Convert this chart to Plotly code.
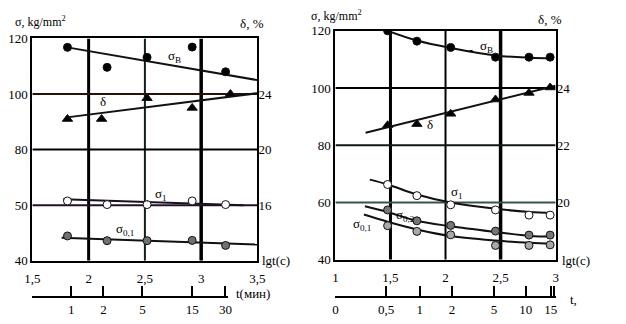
import plotly.graph_objects as go

W, H = 626, 324
FONT = "Liberation Serif"

# ---------- left panel: lg t (s) vs stress / elongation ----------
L_sigB_x = [1.812, 2.164, 2.519, 2.92, 3.217]
L_sigB_y = [116.8, 109.6, 113.2, 116.9, 108.0]
L_sigB_fit_x = [1.81, 3.5]
L_sigB_fit_y = [116.8, 105.0]

L_delta_x = [1.812, 2.115, 2.519, 2.92, 3.26]
L_delta_y = [22.2, 22.2, 23.7, 23.0, 24.0]
L_delta_fit_x = [1.79, 3.5]
L_delta_fit_y = [22.3, 24.06]

L_sig1_x = [1.812, 2.164, 2.519, 2.92, 3.217]
L_sig1_y = [61.5, 60.2, 60.2, 61.5, 60.2]
L_sig1_fit_x = [1.774, 3.376]
L_sig1_fit_y = [62.1, 60.0]

L_sig01_x = [1.812, 2.164, 2.519, 2.92, 3.217]
L_sig01_y = [48.9, 47.2, 47.2, 47.3, 45.5]
L_sig01_fit_x = [1.76, 3.5]
L_sig01_fit_y = [48.3, 45.8]

L_xticks = [1.5, 2, 2.5, 3, 3.5]
L_xtext = ["1,5", "2", "2,5", "3", "3,5"]
L_yticks = [40, 60, 80, 100, 120]
L_ytext = ["40", "50", "80", "100", "120"]
L_dticks = [16, 20, 24]
L_t_pos = [1.5, 1.846, 2.132, 2.478, 2.92, 3.215, 3.238]
L_t_text = ["", "1", "2", "5", "15", "30", ""]

# ---------- right panel ----------
R_x = [1.474, 1.74, 2.047, 2.454, 2.758, 2.95]
R_sigB_y = [120.0, 116.4, 114.2, 110.8, 110.8, 110.8]
R_sigB_fit_x = [1.474, 1.74, 2.047, 2.454, 2.766, 2.97]
R_sigB_fit_y = [120.0, 116.6, 114.0, 111.4, 110.6, 110.4]

R_delta_y = [22.7, 22.74, 23.1, 23.6, 23.83, 24.02]
R_delta_fit_x = [1.274, 3.0]
R_delta_fit_y = [22.44, 24.08]

R_sig1_y = [66.3, 62.4, 59.2, 57.4, 55.6, 55.6]
R_sig1_fit_x = [1.312, 1.474, 1.74, 2.047, 2.454, 2.766, 2.97]
R_sig1_fit_y = [68.0, 66.3, 62.8, 60.0, 57.8, 56.7, 56.3]

R_sig02_y = [57.4, 53.6, 52.0, 50.0, 48.6, 48.6]
R_sig02_fit_x = [1.268, 1.474, 1.74, 2.047, 2.454, 2.766, 2.97]
R_sig02_fit_y = [58.7, 56.7, 53.6, 51.7, 49.7, 48.3, 48.1]

R_sig01_y = [51.9, 49.9, 48.7, 45.0, 45.0, 45.2]
R_sig01_fit_x = [1.259, 1.474, 1.74, 2.047, 2.454, 2.766, 2.97]
R_sig01_fit_y = [55.8, 53.3, 50.6, 48.3, 46.7, 45.9, 45.6]

R_xticks = [1, 1.5, 2, 2.5, 3]
R_xtext = ["1", "1,5", "2", "2,5", "3"]
R_yticks = [40, 60, 80, 100, 120]
R_ytext = ["40", "60", "80", "100", "120"]
R_dticks = [20, 22, 24]
R_t_pos = [1.0, 1.46, 1.766, 2.058, 2.44, 2.728, 2.956, 2.985]
R_t_text = ["0", "0,5", "1", "2", "5", "10", "15", ""]


def px(x):
    return x / W


def py(y):
    return 1 - y / H


fig = go.Figure()


def line(x, y, xa, ya, color="#111111", width=2, shape="linear"):
    fig.add_trace(go.Scatter(x=x, y=y, xaxis=xa, yaxis=ya, mode="lines",
                             line=dict(color=color, width=width, shape=shape),
                             hoverinfo="skip", showlegend=False))


def pts(x, y, xa, ya, symbol, fill, size=8):
    fig.add_trace(go.Scatter(x=x, y=y, xaxis=xa, yaxis=ya, mode="markers",
                             marker=dict(symbol=symbol, size=size, color=fill,
                                         line=dict(color="#111111", width=1)),
                             showlegend=False))


# left panel
line(L_sigB_fit_x, L_sigB_fit_y, "x", "y")
line(L_delta_fit_x, L_delta_fit_y, "x", "y2")
line(L_sig1_fit_x, L_sig1_fit_y, "x", "y", color="#1a1020")
line(L_sig01_fit_x, L_sig01_fit_y, "x", "y")
pts(L_sigB_x, L_sigB_y, "x", "y", "circle", "#000000")
pts(L_delta_x, L_delta_y, "x", "y2", "triangle-up", "#000000", 9)
pts(L_sig1_x, L_sig1_y, "x", "y", "circle", "#ffffff")
pts(L_sig01_x, L_sig01_y, "x", "y", "circle", "#707070")

# right panel
line(R_sigB_fit_x, R_sigB_fit_y, "x2", "y3", shape="spline")
line(R_delta_fit_x, R_delta_fit_y, "x2", "y4")
line(R_sig1_fit_x, R_sig1_fit_y, "x2", "y3", shape="spline")
line(R_sig02_fit_x, R_sig02_fit_y, "x2", "y3", shape="spline")
line(R_sig01_fit_x, R_sig01_fit_y, "x2", "y3", shape="spline")
pts(R_x, R_sigB_y, "x2", "y3", "circle", "#000000")
pts(R_x, R_delta_y, "x2", "y4", "triangle-up", "#000000", 9)
pts(R_x, R_sig1_y, "x2", "y3", "circle", "#ffffff")
pts(R_x, R_sig02_y, "x2", "y3", "circle", "#767676")
pts(R_x, R_sig01_y, "x2", "y3", "circle", "#a8a8a8")

# carriers for the time-in-minutes scales (own hidden y axis at the bottom)
for xa in ("x3", "x4"):
    fig.add_trace(go.Scatter(x=[None], y=[None], xaxis=xa, yaxis="y5",
                             mode="markers", showlegend=False, hoverinfo="skip"))

tick_font = dict(family=FONT, size=13, color="#000000")
frame = dict(showline=True, linewidth=2, linecolor="#000000", mirror=True,
             showgrid=False, zeroline=False, ticks="", tickfont=tick_font)

L_dom_x = [px(25), px(256)]
L_dom_y = [py(266), py(33)]
R_dom_x = [px(336), px(562)]
R_dom_y = [py(265), py(25)]

fig.update_layout(
    width=W, height=H, margin=dict(l=0, r=0, t=0, b=0),
    paper_bgcolor="#ffffff", plot_bgcolor="rgba(0,0,0,0)", showlegend=False,
    font=dict(family=FONT, size=13, color="#000000"),
    xaxis=dict(domain=L_dom_x, range=[1.5, 3.5], anchor="y",
               tickvals=L_xticks, ticktext=L_xtext, ticklabelstandoff=5, **frame),
    yaxis=dict(domain=L_dom_y, range=[40, 120], anchor="x",
               tickvals=L_yticks, ticktext=L_ytext, **frame),
    yaxis2=dict(range=[12, 28], overlaying="y", side="right", anchor="x",
                tickvals=L_dticks, showgrid=False, zeroline=False,
                showline=False, ticks="", tickfont=tick_font),
    xaxis2=dict(domain=R_dom_x, range=[1, 3], anchor="y3",
                tickvals=R_xticks, ticktext=R_xtext, ticklabelstandoff=5, **frame),
    yaxis3=dict(domain=R_dom_y, range=[40, 120], anchor="x2",
                tickvals=R_yticks, ticktext=R_ytext, **frame),
    yaxis4=dict(range=[18, 26], overlaying="y3", side="right", anchor="x2",
                tickvals=R_dticks, showgrid=False, zeroline=False,
                showline=False, ticks="", tickfont=tick_font),
    yaxis5=dict(domain=[py(304), py(300)], range=[0, 1], visible=False,
                anchor="x3"),
    xaxis3=dict(domain=[px(25), px(226)], range=[1.5, 1.5 + 201 / 115.5],
                anchor="free", position=py(304),
                tickvals=L_t_pos, ticktext=L_t_text, ticks="inside",
                ticklen=10, tickwidth=2, tickcolor="#000000",
                showline=True, linewidth=2, linecolor="#000000",
                showgrid=False, zeroline=False, tickfont=tick_font),
    xaxis4=dict(domain=R_dom_x, range=[1, 3], anchor="free", position=py(304),
                tickvals=R_t_pos, ticktext=R_t_text, ticks="inside",
                ticklen=10, tickwidth=2, tickcolor="#000000",
                showline=True, linewidth=2, linecolor="#000000",
                showgrid=False, zeroline=False, tickfont=tick_font),
)

# grid lines of uneven weight
shapes = []
for xv, wd, col in [(2, 3, "#000000"), (2.5, 2, "#102020"), (3, 3.5, "#000000")]:
    shapes.append(dict(type="line", xref="x", yref="y", x0=xv, x1=xv, y0=40, y1=120,
                       line=dict(color=col, width=wd), layer="below"))
for yv, col in [(100, "#2b0f0a"), (80, "#000000"), (60, "#201028")]:
    shapes.append(dict(type="line", xref="x", yref="y", x0=1.5, x1=3.5, y0=yv, y1=yv,
                       line=dict(color=col, width=2), layer="below"))
for xv, wd in [(1.5, 3), (2, 2), (2.5, 3.5)]:
    shapes.append(dict(type="line", xref="x2", yref="y3", x0=xv, x1=xv, y0=40, y1=120,
                       line=dict(color="#000000", width=wd), layer="below"))
for yv, col in [(100, "#000000"), (80, "#101818"), (60, "#3a5050")]:
    shapes.append(dict(type="line", xref="x2", yref="y3", x0=1, x1=3, y0=yv, y1=yv,
                       line=dict(color=col, width=2), layer="below"))
fig.update_layout(shapes=shapes)

ann = []


def note(text, x, y, xref, yref, ax=None, ay=None, size=13, xanchor="center"):
    d = dict(text=text, x=x, y=y, xref=xref, yref=yref, showarrow=False,
             font=dict(family=FONT, size=size, color="#000000"),
             xanchor=xanchor, yanchor="middle")
    if ax is not None:
        d.update(showarrow=True, ax=ax, ay=ay, axref=xref, ayref=yref,
                 arrowhead=0, arrowwidth=1.2, arrowcolor="#000000", standoff=0,
                 startstandoff=6)
    ann.append(d)


# curve labels, left
note("σ<sub>B</sub>", 2.68, 111.6, "x", "y", 2.76, 113.6)
note("δ", 2.077, 22.6, "x", "y2", 2.132, 23.45)
note("σ<sub>1</sub>", 2.524, 61.2, "x", "y", 2.64, 64.0)
note("σ<sub>0,1</sub>", 2.221, 47.8, "x", "y", 2.32, 51.4)
# curve labels, right
note("σ<sub>B</sub>", 2.21, 112.8, "x2", "y3", 2.37, 114.6)
note("δ", 1.905, 22.6, "x2", "y4", 1.86, 22.72)
note("σ<sub>1</sub>", 2.027, 61.1, "x2", "y3", 2.10, 63.4)
note("σ<sub>0,2</sub>", 1.64, 55.6, "x2", "y3")
note("σ<sub>0,1</sub>", 1.24, 52.3, "x2", "y3")

# axis captions
for d in [
    ("σ, kg/mm<sup>2</sup>", px(5), py(15), "left", 12),
    ("δ, %", px(236), py(17), "left", 13),
    ("lgt(c)", px(259), py(266), "left", 13),
    ("t(мин)", px(232), py(300), "left", 13),
    ("σ, kg/mm<sup>2</sup>", px(309), py(9), "left", 12),
    ("δ, %", px(542), py(13), "left", 13),
    ("lgt(c)", px(566), py(266), "left", 13),
    ("t,", px(575), py(307), "left", 13),
]:
    note(d[0], d[1], d[2], "paper", "paper", xanchor=d[3], size=d[4])

fig.update_layout(annotations=ann)
fig.write_html("out.html")
